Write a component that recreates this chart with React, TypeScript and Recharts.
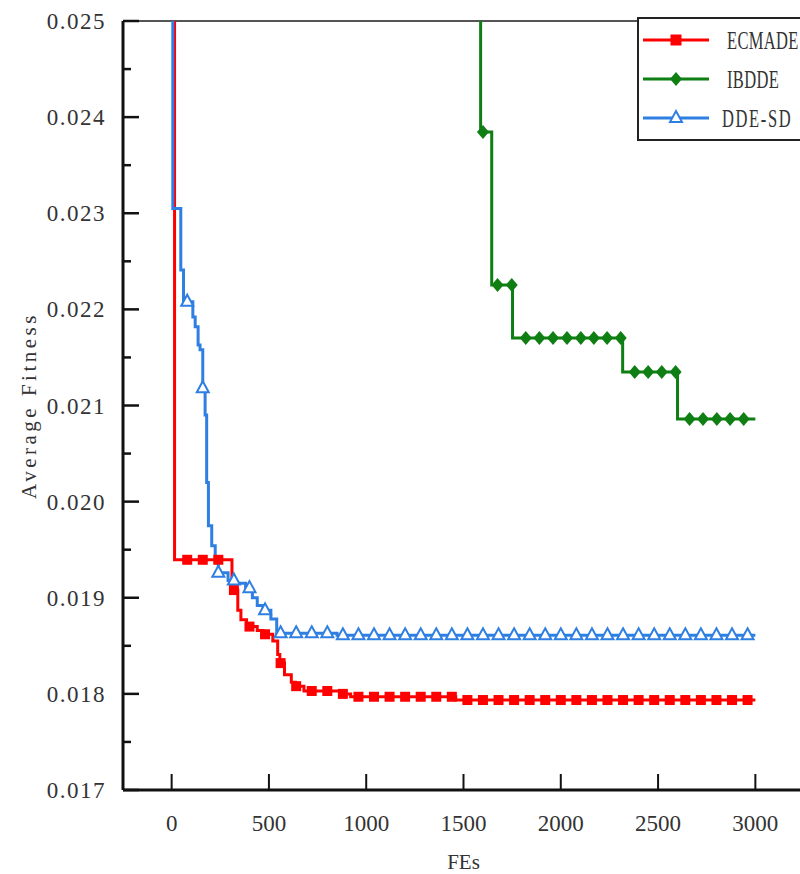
import React from "react";
import { LineChart, Line, XAxis, YAxis, ReferenceLine } from "recharts";

const xTicks = [0, 500, 1000, 1500, 2000, 2500, 3000];
const yTicks = [
  0.017, 0.0175, 0.018, 0.0185, 0.019, 0.0195, 0.02, 0.0205, 0.021, 0.0215, 0.022, 0.0225, 0.023,
  0.0235, 0.024, 0.0245, 0.025,
];

// step curves: FE where the best value changes -> new value (0.05 = still above the plot)
const ecmadeFe = [0, 15, 310, 340, 356, 385, 440, 470, 520, 545, 556, 580, 615, 636, 680, 880, 920, 1460, 3000];
const ecmadeFit = [
  0.05, 0.019395, 0.01908, 0.01887, 0.01877, 0.0187, 0.01866, 0.01862, 0.01855, 0.01841, 0.01832, 0.0182,
  0.01812, 0.01808, 0.01803, 0.018, 0.01797, 0.017936, 0.017936,
];

const ibddeFe = [0, 1588, 1645, 1752, 2318, 2600, 3000];
const ibddeFit = [0.05, 0.023845, 0.022254, 0.021702, 0.021349, 0.02086, 0.02086];

const ddesdFe = [
  0, 6, 47, 61, 109, 121, 136, 146, 160, 172, 180, 189, 206, 224, 240, 290, 330, 380, 415, 440, 470, 510, 540,
  850, 3000,
];
const ddesdFit = [
  0.05, 0.02305, 0.02241, 0.02208, 0.02192, 0.02182, 0.02163, 0.02158, 0.02118, 0.0209, 0.0202, 0.01975,
  0.01954, 0.01937, 0.01926, 0.01918, 0.01915, 0.0191, 0.019, 0.01892, 0.01887, 0.01878, 0.01863, 0.01861,
  0.01861,
];

// FEs where a marker sits
const ecmadeMarks = [
  80, 160, 240, 320, 400, 480, 560, 640, 720, 800, 880, 960, 1040, 1120, 1200, 1280, 1360, 1440, 1520, 1600,
  1680, 1760, 1840, 1920, 2000, 2080, 2160, 2240, 2320, 2400, 2480, 2560, 2640, 2720, 2800, 2880, 2960,
];
const ddesdMarks = [
  80, 160, 240, 320, 400, 480, 560, 640, 720, 800, 880, 960, 1040, 1120, 1200, 1280, 1360, 1440, 1520, 1600,
  1680, 1760, 1840, 1920, 2000, 2080, 2160, 2240, 2320, 2400, 2480, 2560, 2640, 2720, 2800, 2880, 2960,
];
const ibddeMarks = [
  1600, 1675, 1748, 1820, 1890, 1960, 2032, 2103, 2170, 2238, 2308, 2380, 2449, 2519, 2590, 2662, 2731, 2802,
  2870, 2940,
];

const RED = "#ff0000";
const GREEN = "#0f7f14";
const BLUE = "#2f7fe2";
const TEXT = "#333";
const FONT = "Liberation Serif";

type Pt = { fe: number; fit: number; mark: boolean };

function buildSeries(fes: number[], fits: number[], marks: number[]): Pt[] {
  const pts: Pt[] = fes.map((fe, i) => ({ fe, fit: fits[i], mark: false }));
  marks.forEach((m) => {
    let v = fits[0];
    fes.forEach((fe, i) => {
      if (fe <= m) v = fits[i];
    });
    pts.push({ fe: m, fit: v, mark: true });
  });
  return pts.sort((a, b) => a.fe - b.fe);
}

const ecmadeData = buildSeries(ecmadeFe, ecmadeFit, ecmadeMarks);
const ibddeData = buildSeries(ibddeFe, ibddeFit, ibddeMarks);
const ddesdData = buildSeries(ddesdFe, ddesdFit, ddesdMarks);

function Square({ x, y, s = 10 }: { x: number; y: number; s?: number }) {
  return <rect x={x - s / 2} y={y - s / 2} width={s} height={s} fill={RED} />;
}
function Diamond({ x, y }: { x: number; y: number }) {
  return <polygon points={`${x},${y - 7} ${x + 6},${y} ${x},${y + 7} ${x - 6},${y}`} fill={GREEN} />;
}
function Triangle({ x, y }: { x: number; y: number }) {
  return (
    <polygon
      points={`${x},${y - 7} ${x + 6},${y + 4} ${x - 6},${y + 4}`}
      fill="#fff"
      stroke={BLUE}
      strokeWidth={2}
    />
  );
}

const markDot = (kind: string) => (p: any) => {
  const key = `${kind}-${p.index}`;
  if (!p.payload || !p.payload.mark || p.cx == null || p.cy == null) return <g key={key} />;
  if (kind === "sq") return <Square key={key} x={p.cx} y={p.cy} />;
  if (kind === "di") return <Diamond key={key} x={p.cx} y={p.cy} />;
  return <Triangle key={key} x={p.cx} y={p.cy} />;
};

function XTick(p: any) {
  const { x, y, payload } = p;
  return (
    <g>
      <line x1={x} y1={y} x2={x} y2={y - 16} stroke="#111" strokeWidth={2} />
      <text x={x} y={y + 41} textAnchor="middle" fontFamily={FONT} fontSize={23} fill={TEXT}>
        {payload.value}
      </text>
    </g>
  );
}

function YTick(p: any) {
  const { x, y, payload } = p;
  const v = payload.value as number;
  const major = Math.abs(v * 1000 - Math.round(v * 1000)) < 1e-6;
  return (
    <g>
      <line x1={x} y1={y} x2={x + (major ? 16 : 8)} y2={y} stroke="#111" strokeWidth={2.5} />
      {major && (
        <text x={x - 17} y={y + 8} textAnchor="end" fontFamily={FONT} fontSize={23} letterSpacing={1.5} fill={TEXT}>
          {v.toFixed(3)}
        </text>
      )}
    </g>
  );
}

const legendItems = [
  { name: "ECMADE", color: RED, kind: "sq" },
  { name: "IBDDE", color: GREEN, kind: "di" },
  { name: "DDE-SD", color: BLUE, kind: "tr" },
];

function LegendBox() {
  return (
    <svg width={200} height={140} style={{ position: "absolute", left: 630, top: 10 }}>
      <rect x={8} y={8} width={200} height={122} fill="#fff" stroke="#222" strokeWidth={2} />
      {legendItems.map((it, i) => {
        const cy = 30 + i * 39;
        return (
          <g key={it.name}>
            <line x1={13} y1={cy} x2={79} y2={cy} stroke={it.color} strokeWidth={3} />
            {it.kind === "sq" && <Square x={46} y={cy} s={11} />}
            {it.kind === "di" && <Diamond x={46} y={cy} />}
            {it.kind === "tr" && <Triangle x={46} y={cy} />}
            <text
              transform={`translate(${it.kind === "tr" ? 92 : 97},${cy + 9}) scale(0.66,1)`}
              fontFamily={FONT}
              fontSize={25}
              letterSpacing={it.kind === "tr" ? 2.5 : 0.5}
              fill={TEXT}
            >
              {it.name}
            </text>
          </g>
        );
      })}
    </svg>
  );
}

export default function App() {
  return (
    <div
      style={{
        position: "absolute",
        left: 0,
        top: 0,
        width: 800,
        height: 874,
        overflow: "hidden",
        background: "#fff",
        fontFamily: FONT,
      }}
    >
      <LineChart
        width={834}
        height={874}
        margin={{ top: 21, right: 30, bottom: 4, left: 0 }}
        style={{ fontFamily: FONT }}
      >
        <XAxis
          xAxisId="b"
          dataKey="fe"
          type="number"
          domain={[-250, 3250]}
          ticks={xTicks}
          interval={0}
          allowDataOverflow
          height={80}
          tickSize={0}
          tickMargin={0}
          tickLine={false}
          axisLine={{ stroke: "#111", strokeWidth: 3 }}
          tick={(p: any) => <XTick {...p} />}
          label={(lp: any) => {
            const vb = lp.viewBox || { x: 123, y: 790, width: 681 };
            return (
              <text
                x={vb.x + vb.width / 2}
                y={vb.y + 79}
                textAnchor="middle"
                fontFamily={FONT}
                fontSize={21}
                fill={TEXT}
              >
                FEs
              </text>
            );
          }}
        />
        <YAxis
          yAxisId="l"
          type="number"
          domain={[0.017, 0.025]}
          ticks={yTicks}
          interval={0}
          allowDataOverflow
          width={123}
          tickSize={0}
          tickMargin={0}
          tickLine={false}
          axisLine={{ stroke: "#111", strokeWidth: 3 }}
          tick={(p: any) => <YTick {...p} />}
          label={(lp: any) => {
            const vb = lp.viewBox || { x: 0, y: 21, width: 123, height: 769 };
            const cy = vb.y + vb.height / 2;
            return (
              <text
                x={36}
                y={cy}
                transform={`rotate(-90, 36, ${cy})`}
                textAnchor="middle"
                fontFamily={FONT}
                fontSize={21}
                letterSpacing={3.5}
                fill={TEXT}
              >
                Average Fitness
              </text>
            );
          }}
        />
        <ReferenceLine xAxisId="b" yAxisId="l" y={0.025} stroke="#555" strokeWidth={2} />
        <Line
          xAxisId="b"
          yAxisId="l"
          data={ecmadeData}
          dataKey="fit"
          type="stepAfter"
          stroke={RED}
          strokeWidth={3}
          dot={markDot("sq")}
          activeDot={false}
          isAnimationActive={false}
        />
        <Line
          xAxisId="b"
          yAxisId="l"
          data={ibddeData}
          dataKey="fit"
          type="stepAfter"
          stroke={GREEN}
          strokeWidth={3}
          dot={markDot("di")}
          activeDot={false}
          isAnimationActive={false}
        />
        <Line
          xAxisId="b"
          yAxisId="l"
          data={ddesdData}
          dataKey="fit"
          type="stepAfter"
          stroke={BLUE}
          strokeWidth={3}
          dot={markDot("tr")}
          activeDot={false}
          isAnimationActive={false}
        />
      </LineChart>
      <LegendBox />
    </div>
  );
}
